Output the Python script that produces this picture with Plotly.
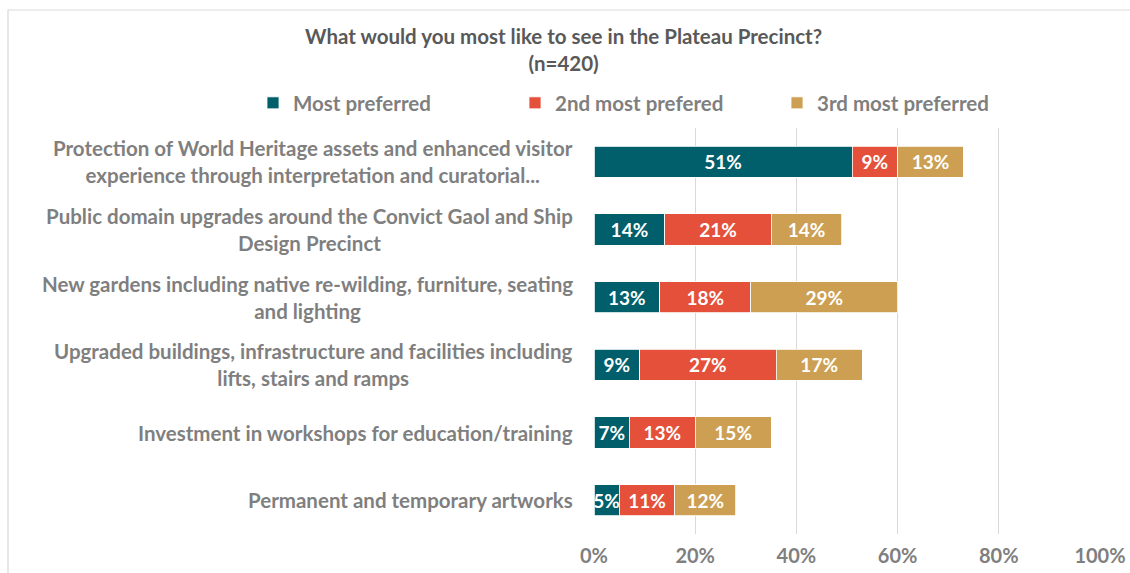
import plotly.graph_objects as go

# Survey categories (top to bottom) and share of respondents per preference rank
categories = [
    "Protection of World Heritage assets and enhanced visitor<br>experience through interpretation and curatorial...",
    "Public domain upgrades around the Convict Gaol and Ship<br>Design Precinct",
    "New gardens including native re-wilding, furniture, seating<br>and lighting",
    "Upgraded buildings, infrastructure and facilities including<br>lifts, stairs and ramps",
    "Investment in workshops for education/training",
    "Permanent and temporary artworks",
]
most_preferred = [51, 14, 13, 9, 7, 5]
second_preferred = [9, 21, 18, 27, 13, 11]
third_preferred = [13, 14, 29, 17, 15, 12]

series_names = ["Most preferred", "2nd most prefered", "3rd most preferred"]
series_values = [most_preferred, second_preferred, third_preferred]
series_colors = ["#005F6B", "#E4503A", "#CC9F53"]

title_text = "What would you most like to see in the Plateau Precinct?<br>(n=420)"
x_ticks = [0, 20, 40, 60, 80, 100]
x_tick_labels = ["0%", "20%", "40%", "60%", "80%", "100%"]

FONT = "Lato"
GREY = "#7F7F7F"
DARK = "#595959"
TXT = 20.5

# Plot area in pixels
L, R, T, B = 594, 1100, 128, 534
W, H = R - L, B - T

fig = go.Figure()
for name, vals, col in zip(series_names, series_values, series_colors):
    fig.add_trace(go.Bar(
        y=categories, x=vals, name=name, orientation="h",
        marker=dict(color=col, line=dict(color="white", width=0.8)),
        text=[f"{v}%" for v in vals], textposition="inside", textangle=0,
        insidetextanchor="middle", constraintext="none",
        textfont=dict(family=FONT, size=19, color="white", weight=700),
        hoverinfo="skip",
    ))

# Category labels as centred two-line blocks to the left of the bars
for cat in categories:
    fig.add_annotation(
        x=0, y=cat, xref="x", yref="y", text=cat, showarrow=False,
        xanchor="right", yanchor="middle", align="center", xshift=-19,
        font=dict(family=FONT, size=TXT, color=GREY, weight=700),
    )

# Chart title
fig.add_annotation(
    x=(563 - L) / W, y=(B - 49) / H, xref="paper", yref="paper",
    text=title_text, showarrow=False,
    xanchor="center", yanchor="middle", align="center",
    font=dict(family=FONT, size=TXT, color=DARK, weight=700),
)

# Chart frame
fig.add_shape(type="rect", xref="paper", yref="paper",
              x0=(8 - L) / W, x1=1.2, y0=-0.3, y1=(B - 10) / H,
              line=dict(color="#D9D9D9", width=1.2), fillcolor="rgba(0,0,0,0)", layer="below")

fig.update_layout(
    width=1130, height=573,
    paper_bgcolor="white", plot_bgcolor="white",
    margin=dict(l=L, r=1130 - R, t=T, b=573 - B, autoexpand=False),
    barmode="stack", bargap=0.54,
    legend=dict(orientation="h", x=(253 - L) / W, xanchor="left", y=(B - 103) / H,
                yanchor="middle",
                font=dict(family=FONT, size=TXT, color=GREY, weight=700),
                entrywidth=217, traceorder="normal", itemclick=False),
    showlegend=True,
    xaxis=dict(range=[0, 100], tickvals=x_ticks, ticktext=x_tick_labels,
               showgrid=True, gridcolor="#D9D9D9", gridwidth=1.2, automargin=False,
               zeroline=False, showline=False, ticks="", ticklabelstandoff=8,
               tickfont=dict(family=FONT, size=20, color=GREY, weight=700)),
    yaxis=dict(autorange="reversed", showticklabels=False, showgrid=False,
               automargin=False, zeroline=False, showline=False, ticks=""),
)

fig.write_html("out.html")
